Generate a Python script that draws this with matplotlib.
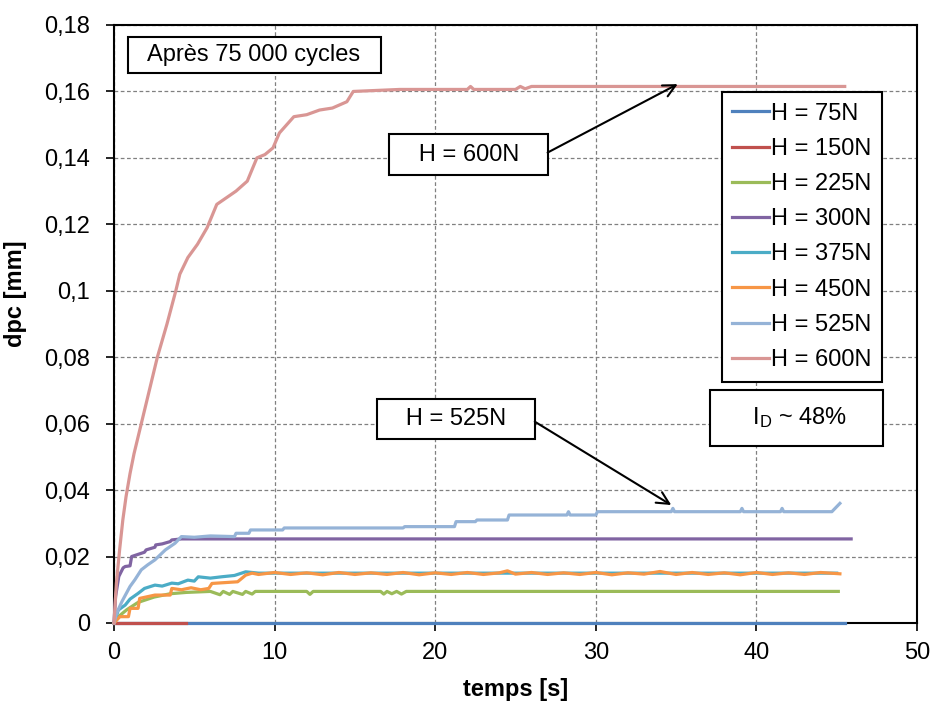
import matplotlib
matplotlib.use("Agg")
import matplotlib.pyplot as plt
from matplotlib.ticker import FuncFormatter, MultipleLocator

# --- données (temps [s], dpc [mm]) ---
labels = ["H = 75N", "H = 150N", "H = 225N", "H = 300N",
          "H = 375N", "H = 450N", "H = 525N", "H = 600N"]
couleurs = ["#4F81BD", "#C0504D", "#9BBB59", "#8064A2",
            "#4BACC6", "#F79646", "#95B3D7", "#D99694"]

t_75 = [0, 45.5]
d_75 = [0, 0]

t_150 = [0, 4.5]
d_150 = [0, 0]

t_225 = [0, 0.3, 0.8, 1.5, 2.5, 3.5, 4.5, 6.0, 6.6, 6.8, 7.2, 7.4, 8.0, 8.2, 8.6, 8.8,
         12.0, 12.2, 12.4, 16.6, 16.8, 17.0, 17.3, 17.6, 17.9, 18.2, 45.1]
d_225 = [0, 0.002, 0.004, 0.0062, 0.0078, 0.0088, 0.0092, 0.0095, 0.0085, 0.0095, 0.0086,
         0.0095, 0.0086, 0.0095, 0.0087, 0.0095, 0.0095, 0.0086, 0.0095, 0.0095, 0.0087,
         0.0095, 0.0088, 0.0095, 0.0087, 0.0095, 0.0095]

t_300 = [0, 0.1, 0.3, 0.57, 0.7, 1.0, 1.1, 1.9, 2.0, 2.55, 2.6, 3.0, 3.5, 3.6, 4.2, 45.9]
d_300 = [0, 0.008, 0.014, 0.0166, 0.017, 0.0172, 0.020, 0.0213, 0.022, 0.0228, 0.0235,
         0.0238, 0.0245, 0.025, 0.0253, 0.0253]

t_375 = [0, 0.27, 0.7, 1.0, 1.5, 1.9, 2.55, 3.0, 3.6, 4.0, 4.6, 5.0, 5.25, 6.0, 6.7,
         7.5, 8.2, 9.0, 45.0]
d_375 = [0, 0.0039, 0.0054, 0.0072, 0.0089, 0.0104, 0.0114, 0.0111, 0.012, 0.0118,
         0.0129, 0.0126, 0.0139, 0.0135, 0.0139, 0.0143, 0.0154, 0.0150, 0.0150]

t_450 = [0, 0.37, 0.9, 1.0, 1.5, 1.6, 2.55, 3.5, 3.6, 4.2, 4.8, 5.4, 5.9, 6.1, 7.7, 8.2,
         8.6, 9, 10, 11, 12, 13, 14, 15, 16, 17, 18, 19, 20, 21, 22, 23, 24, 24.5, 25,
         26, 27, 28, 29, 30, 31, 32, 33, 34, 35, 36, 37, 38, 39, 40, 41, 42, 43, 44, 45.2]
d_450 = [0, 0.0019, 0.0019, 0.0044, 0.0044, 0.0074, 0.0084, 0.0084, 0.0104, 0.0100,
         0.0106, 0.0100, 0.0104, 0.0119, 0.0124, 0.0144, 0.015, 0.0146, 0.0152, 0.0146,
         0.0151, 0.0145, 0.0152, 0.0146, 0.0151, 0.0146, 0.0152, 0.0145, 0.0151, 0.0146,
         0.0152, 0.0146, 0.0151, 0.0157, 0.0147, 0.0152, 0.0146, 0.0151, 0.0146, 0.0152,
         0.0145, 0.0151, 0.0147, 0.0155, 0.0146, 0.0152, 0.0146, 0.0151, 0.0145, 0.0152,
         0.0146, 0.0151, 0.0146, 0.0152, 0.0148]

t_525 = [0, 0.17, 0.5, 1.0, 1.3, 1.7, 2.1, 2.55, 3.2, 3.8, 4.2, 5.0, 6.0, 7.5, 7.6, 8.4,
         8.5, 10.5, 10.6, 18.0, 18.1, 21.2, 21.3, 22.5, 22.6, 24.5, 24.6, 28.2, 28.3,
         28.4, 30.0, 30.1, 34.7, 34.8, 34.9, 39.0, 39.1, 39.2, 41.5, 41.6, 41.7, 44.7, 45.2]
d_525 = [0, 0.003, 0.0065, 0.011, 0.013, 0.016, 0.0175, 0.019, 0.022, 0.024, 0.026,
         0.0258, 0.0262, 0.026, 0.027, 0.027, 0.028, 0.028, 0.0286, 0.0286, 0.029, 0.029,
         0.0305, 0.0305, 0.031, 0.031, 0.0325, 0.0325, 0.0335, 0.0325, 0.0325, 0.0335,
         0.0335, 0.0345, 0.0335, 0.0335, 0.0345, 0.0335, 0.0335, 0.0345, 0.0335, 0.0335,
         0.036]

t_600 = [0, 0.15, 0.35, 0.55, 0.75, 1.0, 1.25, 1.5, 1.75, 2.2, 2.7, 3.3, 3.85, 4.1, 4.6,
         5.2, 5.8, 6.4, 7.0, 7.6, 8.3, 8.9, 9.4, 9.9, 10.3, 11.2, 12.0, 12.8, 13.6, 14.5,
         14.9, 17.8, 22.0, 22.2, 22.4, 25.0, 25.3, 25.6, 26.0, 45.5]
d_600 = [0, 0.012, 0.022, 0.031, 0.038, 0.045, 0.051, 0.056, 0.061, 0.07, 0.08, 0.09, 0.100,
         0.105, 0.110, 0.114, 0.119, 0.126, 0.128, 0.130, 0.133, 0.140, 0.141, 0.143,
         0.1475, 0.1524, 0.153, 0.1544, 0.155, 0.1569, 0.160, 0.1606, 0.1606, 0.1615,
         0.1606, 0.1606, 0.1615, 0.1608, 0.1615, 0.1615]

series = [(t_75, d_75), (t_150, d_150), (t_225, d_225), (t_300, d_300),
          (t_375, d_375), (t_450, d_450), (t_525, d_525), (t_600, d_600)]

plt.rcParams["font.family"] = ["Liberation Sans", "DejaVu Sans"]
plt.rcParams["font.size"] = 17

fig = plt.figure(figsize=(9.32, 7.06), dpi=100)
ax = fig.add_axes([0.1223, 0.1176, 0.8616, 0.847])

for (t, d), lab, c in zip(series, labels, couleurs):
    ax.plot(t, d, color=c, lw=2.3, label=lab, zorder=3, clip_on=False)

ax.set_xlim(0, 50)
ax.set_ylim(0, 0.18)
ax.xaxis.set_major_locator(MultipleLocator(10))
ax.yaxis.set_major_locator(MultipleLocator(0.02))
ax.yaxis.set_major_formatter(FuncFormatter(lambda v, p: ("%g" % round(v, 4)).replace(".", ",")))
ax.grid(True, color="#808080", lw=0.9, linestyle=(0, (3, 2)))
ax.set_axisbelow(True)
for s in ax.spines.values():
    s.set_linewidth(1.5)
    s.set_color("black")
ax.tick_params(direction="out", length=6, width=1.2, colors="black")
ax.tick_params(axis="y", pad=11)
ax.tick_params(axis="x", pad=8)

ax.set_xlabel("temps [s]", fontweight="bold", fontsize=17, labelpad=10)
ax.set_ylabel("dpc [mm]", fontweight="bold", fontsize=17)
ax.yaxis.set_label_coords(-0.108, 0.55)

leg = ax.legend(loc="upper left", bbox_to_anchor=(0.757, 0.888), borderaxespad=0,
                handlelength=1.55, handletextpad=0.1, labelspacing=0.56,
                fancybox=False, framealpha=1, edgecolor="black", borderpad=0.45)
leg.get_frame().set_linewidth(1.5)

boite = dict(boxstyle="square,pad=0.3", facecolor="white", edgecolor="black", lw=1.5)
ax.text(8.75, 0.1709, "  Après 75 000 cycles  ", ha="center", va="center", bbox=boite, zorder=5)
ax.text(22.1, 0.1409, "   H = 600N   ", ha="center", va="center",
        bbox=dict(boite, boxstyle="square,pad=0.4"), zorder=5)
ax.text(21.3, 0.0615, "   H = 525N   ", ha="center", va="center",
        bbox=dict(boite, boxstyle="square,pad=0.38"), zorder=5)
ax.text(42.5, 0.0617, r"    $\mathregular{I_D}$ ~ 48%    ", ha="center", va="center",
        bbox=dict(boite, boxstyle="square,pad=0.65"), zorder=5)

fleche = dict(arrowstyle="->", color="black", lw=1.5, mutation_scale=22, shrinkA=0, shrinkB=0)
ax.annotate("", xy=(35.1, 0.1622), xytext=(27.0, 0.1416), arrowprops=fleche, zorder=6)
ax.annotate("", xy=(34.7, 0.0355), xytext=(26.2, 0.0606), arrowprops=fleche, zorder=6)

fig.savefig("out.png", dpi=100)
